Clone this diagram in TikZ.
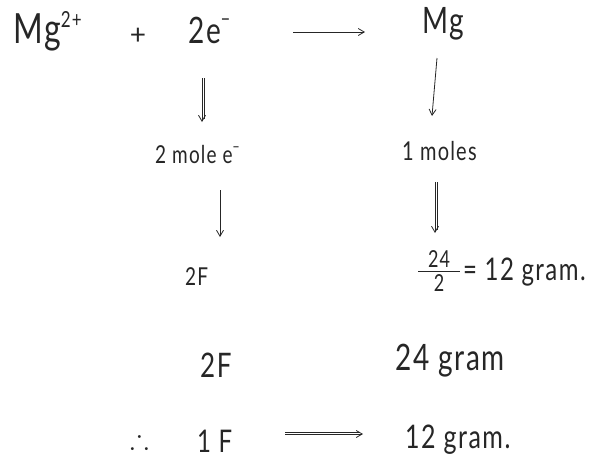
\documentclass[tikz,border=0pt]{standalone}
\usepackage{amssymb}
\usepackage{graphicx}
\usepackage{fontspec}
\setmainfont{Lato}[LetterSpace=6]
\usetikzlibrary{arrows.meta}
\newcommand{\hand}[1]{\scalebox{1}[1.3]{#1}}
\begin{document}
\begin{tikzpicture}[x=1pt,y=-1pt,
  txt/.style={inner sep=0pt, anchor=base west, text=black!85},
  fs/.style={font=\fontsize{#1}{#1}\selectfont},
  pen/.style={draw=black!85, line width=0.8pt, -{Straight Barb[length=6pt,width=7pt]}},
  twin/.style={draw=black!85, line width=0.6pt}]
\useasboundingbox (0,0) rectangle (602,459);
% row 1
\node[txt, fs=32] (mgion) at (13,43) {\hand{Mg\raisebox{12pt}{\fontsize{17}{17}\selectfont 2+}}};
\node[txt, fs=28, anchor=center] (plus) at (138,36) {+};
\node[txt, fs=28] (elec) at (188,43) {\hand{2e\raisebox{13pt}{\fontsize{16}{16}\selectfont −}}};
\node[txt, fs=28] (mg) at (422,33) {\hand{Mg}};
% row 2
\node[txt, fs=19] (twomole) at (155,163) {\hand{2 mole e\raisebox{8pt}{\fontsize{12}{12}\selectfont −}}};
\node[txt, fs=20] (onemole) at (402,160) {\hand{1 moles}};
% row 3
\node[txt, fs=19] (twoF) at (185,285) {\hand{2F}};
\node[txt, fs=18, anchor=base] (num) at (439,267) {\hand{24}};
\node[txt, fs=18, anchor=base] (den) at (439,291) {\hand{2}};
\draw[black!85, line width=0.8pt] (418,271) -- (460,271);
\node[txt, fs=24] (res) at (463,280) {\hand{= 12 gram.}};
% row 4
\node[txt, fs=26] (twoFb) at (200,377) {\hand{2F}};
\node[txt, fs=28] (gram24) at (395,370) {\hand{24 gram}};
% row 5
\node[txt, fs=28] (therefore) at (130,448) {$\therefore$};
\node[txt, fs=24] (oneF) at (197,452) {\hand{1 F}};
\node[txt, fs=25] (gram12) at (405,448) {\hand{12 gram.}};
% arrows
\coordinate (a1s) at (293,32); \coordinate (a1e) at (365,32);
\coordinate (d1s) at (202,78); \coordinate (d1e) at (202,122);
\coordinate (d2s) at (437,58); \coordinate (d2e) at (432,116);
\coordinate (d3s) at (220,190); \coordinate (d3e) at (220,237);
\coordinate (d4s) at (435,182); \coordinate (d4e) at (435,233);
\coordinate (a2s) at (285,434); \coordinate (a2e) at (363,434);
\draw[pen] (a1s) -- (a1e);
\draw[pen] (d1s) -- (d1e);
\draw[twin] ([xshift=1.8pt]d1s) -- ([xshift=1.8pt,yshift=3pt]d1e);
\draw[pen] (d2s) -- (d2e);
\draw[pen] (d3s) -- (d3e);
\draw[pen] (d4s) -- (d4e);
\draw[twin] ([xshift=1.8pt]d4s) -- ([xshift=1.8pt,yshift=3pt]d4e);
\draw[pen] (a2s) -- (a2e);
\draw[twin] ([yshift=1.8pt]a2s) -- ([yshift=1.8pt,xshift=-3pt]a2e);
\end{tikzpicture}
\end{document}
